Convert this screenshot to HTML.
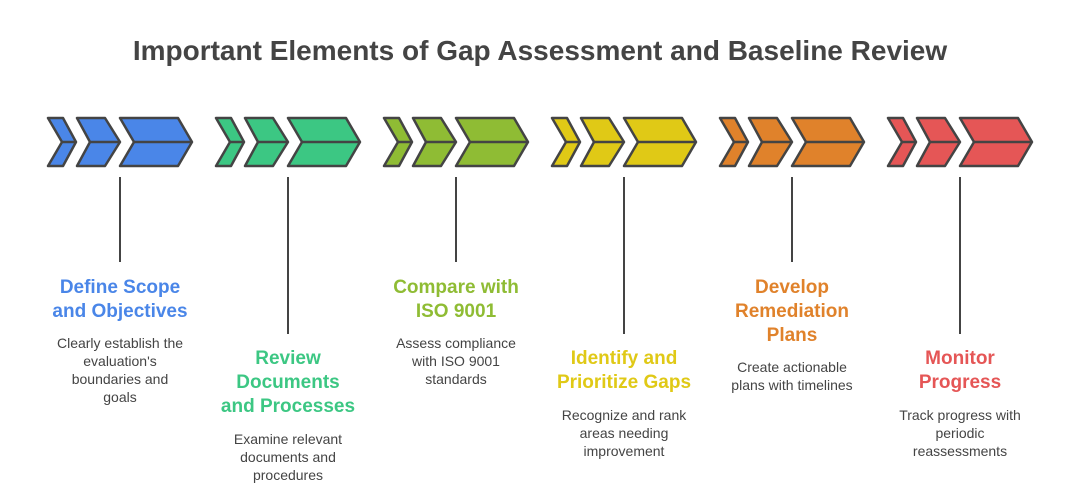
<!DOCTYPE html><html><head><style>
body{margin:0;width:1080px;height:498px;background:#fff;font-family:"Liberation Sans",sans-serif;position:relative;overflow:hidden}
h1{position:absolute;top:35px;left:0;width:1080px;text-align:center;margin:0;font-size:28px;font-weight:bold;color:#444}
.t{position:absolute;width:168px;text-align:center;font-weight:bold;font-size:19px;line-height:24px}
.d{position:absolute;width:168px;text-align:center;font-size:14px;line-height:18px;color:#444}
</style></head><body>
<h1>Important Elements of Gap Assessment and Baseline Review</h1>
<svg width="1080" height="498" style="position:absolute;left:0;top:0" id="s"></svg>
<script>
const cols=["#4a86e8","#3cc783","#8fbc34","#e0c916","#e0822b","#e55656"];
const ends=[262,334,262,334,262,334];
let h="";
cols.forEach((c,i)=>{const o=48+168*i;
const ch=(a,n,tr,tp)=>`<polygon points="${o+a},118 ${o+tr},118 ${o+tp},142 ${o+tr},166 ${o+a},166 ${o+n},142" fill="${c}" stroke="#444" stroke-width="2.5" stroke-linejoin="round"/><line x1="${o+n}" y1="142" x2="${o+tp}" y2="142" stroke="#444" stroke-width="2.5"/>`;
h+=ch(0,14,15,28)+ch(29,42,57,72)+ch(72,86,130,144);
h+=`<line x1="${o+72}" y1="177" x2="${o+72}" y2="${ends[i]}" stroke="#444" stroke-width="2"/>`;
});
document.getElementById("s").innerHTML=h;
</script>
<div class="t" style="left:36px;top:276px;color:#4a86e8">Define Scope<br>and Objectives</div>
<div class="d" style="left:36px;top:334px">Clearly establish the<br>evaluation's<br>boundaries and<br>goals</div>
<div class="t" style="left:204px;top:347px;color:#3cc783">Review<br>Documents<br>and Processes</div>
<div class="d" style="left:204px;top:430px">Examine relevant<br>documents and<br>procedures</div>
<div class="t" style="left:372px;top:276px;color:#8fbc34">Compare with<br>ISO 9001</div>
<div class="d" style="left:372px;top:334px">Assess compliance<br>with ISO 9001<br>standards</div>
<div class="t" style="left:540px;top:347px;color:#e0c916">Identify and<br>Prioritize Gaps</div>
<div class="d" style="left:540px;top:406px">Recognize and rank<br>areas needing<br>improvement</div>
<div class="t" style="left:708px;top:276px;color:#e0822b">Develop<br>Remediation<br>Plans</div>
<div class="d" style="left:708px;top:358px">Create actionable<br>plans with timelines</div>
<div class="t" style="left:876px;top:347px;color:#e55656">Monitor<br>Progress</div>
<div class="d" style="left:876px;top:406px">Track progress with<br>periodic<br>reassessments</div>
</body></html>
